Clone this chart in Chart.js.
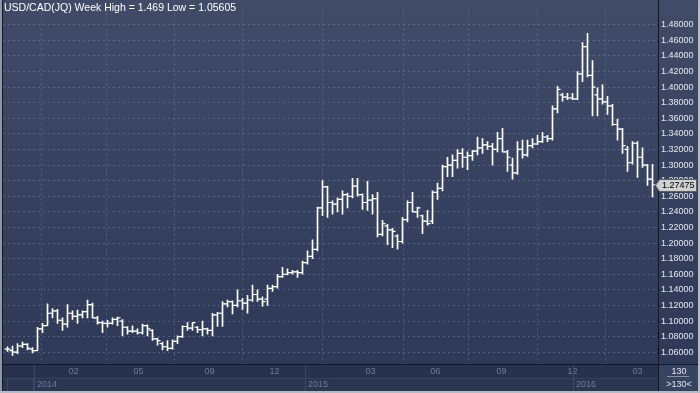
<!DOCTYPE html>
<html>
<head>
<meta charset="utf-8">
<title>USD/CAD weekly</title>
<script src="https://cdn.jsdelivr.net/npm/chart.js@4.4.1/dist/chart.umd.min.js"></script>
<style>
  html, body { margin: 0; padding: 0; background: #26324b; }
  #wrap { width: 700px; height: 393px; }
</style>
</head>
<body>
<div id="wrap"><canvas id="chart" width="700" height="393"></canvas></div>
<script>
// weekly OHLC, index 0 = first week on screen
const opens = [1.064,1.062,1.060,1.068,1.070,1.064,1.062,1.090,1.094,1.110,
  1.113,1.101,1.096,1.110,1.106,1.108,1.112,1.121,1.104,1.098,
  1.097,1.097,1.102,1.100,1.092,1.087,1.087,1.085,1.094,1.088,
  1.077,1.071,1.067,1.065,1.074,1.080,1.093,1.091,1.092,1.089,
  1.090,1.088,1.108,1.110,1.122,1.125,1.120,1.126,1.123,1.127,
  1.134,1.128,1.128,1.142,1.144,1.157,1.160,1.162,1.163,1.162,
  1.175,1.183,1.192,1.245,1.272,1.252,1.250,1.256,1.262,1.260,
  1.273,1.262,1.252,1.255,1.257,1.211,1.222,1.217,1.209,1.202,
  1.230,1.252,1.240,1.235,1.228,1.228,1.265,1.270,1.298,1.300,
  1.306,1.315,1.310,1.312,1.318,1.322,1.326,1.324,1.320,1.334,
  1.317,1.300,1.290,1.320,1.313,1.325,1.327,1.330,1.336,1.334,
  1.372,1.390,1.387,1.386,1.385,1.417,1.452,1.415,1.390,1.385,
  1.381,1.376,1.352,1.346,1.320,1.303,1.328,1.310,1.300,1.282];
const highs = [1.067,1.068,1.071,1.073,1.071,1.066,1.092,1.097,1.122,1.116,
  1.115,1.104,1.121,1.113,1.114,1.113,1.127,1.123,1.106,1.100,
  1.101,1.104,1.105,1.102,1.093,1.094,1.090,1.096,1.095,1.089,
  1.078,1.073,1.075,1.076,1.081,1.094,1.098,1.098,1.093,1.100,
  1.091,1.110,1.111,1.125,1.127,1.126,1.140,1.129,1.133,1.146,
  1.140,1.131,1.146,1.146,1.160,1.169,1.167,1.165,1.165,1.177,
  1.190,1.204,1.246,1.280,1.273,1.254,1.258,1.267,1.264,1.283,
  1.283,1.263,1.279,1.262,1.265,1.229,1.224,1.219,1.211,1.233,
  1.254,1.265,1.246,1.236,1.242,1.267,1.277,1.300,1.310,1.313,
  1.320,1.321,1.317,1.319,1.336,1.334,1.330,1.328,1.342,1.347,
  1.319,1.309,1.330,1.332,1.332,1.334,1.338,1.342,1.338,1.376,
  1.401,1.392,1.392,1.392,1.420,1.457,1.469,1.434,1.399,1.403,
  1.388,1.378,1.359,1.347,1.324,1.330,1.330,1.322,1.301,1.301];
const lows = [1.061,1.056,1.058,1.066,1.063,1.059,1.062,1.085,1.094,1.104,
  1.097,1.088,1.092,1.102,1.097,1.104,1.104,1.104,1.096,1.085,
  1.092,1.096,1.094,1.081,1.083,1.085,1.083,1.083,1.081,1.075,
  1.069,1.063,1.062,1.064,1.071,1.079,1.088,1.088,1.085,1.081,
  1.083,1.081,1.093,1.093,1.118,1.109,1.118,1.115,1.110,1.125,
  1.125,1.119,1.120,1.138,1.142,1.156,1.159,1.160,1.156,1.160,
  1.173,1.180,1.190,1.235,1.233,1.237,1.240,1.237,1.245,1.258,
  1.260,1.243,1.242,1.237,1.208,1.209,1.198,1.194,1.192,1.200,
  1.227,1.240,1.233,1.212,1.223,1.225,1.256,1.267,1.285,1.285,
  1.296,1.297,1.294,1.306,1.313,1.315,1.320,1.300,1.317,1.317,
  1.292,1.282,1.288,1.309,1.311,1.322,1.326,1.329,1.330,1.332,
  1.367,1.382,1.384,1.384,1.384,1.407,1.413,1.363,1.363,1.378,
  1.365,1.351,1.332,1.315,1.292,1.301,1.284,1.297,1.274,1.259];
const closes = [1.064,1.060,1.068,1.070,1.065,1.062,1.090,1.094,1.110,1.113,
  1.101,1.096,1.110,1.106,1.108,1.112,1.121,1.104,1.098,1.097,
  1.097,1.102,1.104,1.092,1.087,1.087,1.085,1.094,1.090,1.077,
  1.075,1.067,1.065,1.074,1.080,1.093,1.091,1.098,1.089,1.090,
  1.088,1.108,1.110,1.122,1.125,1.120,1.126,1.123,1.127,1.134,
  1.128,1.125,1.142,1.144,1.157,1.160,1.162,1.163,1.162,1.175,
  1.183,1.192,1.245,1.272,1.252,1.250,1.256,1.262,1.260,1.273,
  1.262,1.252,1.255,1.257,1.211,1.225,1.217,1.215,1.202,1.230,
  1.252,1.240,1.245,1.228,1.225,1.265,1.270,1.298,1.300,1.306,
  1.315,1.310,1.312,1.318,1.322,1.326,1.324,1.320,1.334,1.317,
  1.310,1.290,1.320,1.313,1.325,1.327,1.330,1.336,1.334,1.372,
  1.397,1.387,1.386,1.385,1.417,1.452,1.415,1.400,1.385,1.381,
  1.376,1.352,1.346,1.325,1.303,1.328,1.310,1.300,1.282,1.27475];

const yTicks = [1.06,1.08,1.10,1.12,1.14,1.16,1.18,1.20,1.22,1.24,1.26,1.28,
  1.30,1.32,1.34,1.36,1.38,1.40,1.42,1.44,1.46,1.48];
// month marks on the time row, in bar-index units
const monthLabels = ['02','05','09','12','03','06','09','12','03'];
const monthPos = [13.2, 26.2, 40.4, 53.4, 72.6, 85.6, 98.8, 113, 126];
const yearLabels = ['2014','2015','2016'];
const yearPos = [5.2, 59.4, 113];

const titleText = 'USD/CAD(JQ) Week High = 1.469 Low = 1.05605';
const barCount = '130';

const FONT = 'Liberation Sans, Arial, sans-serif';

const bars = highs.map((h, i) => ({ x: i, y: [lows[i], h] }));
const openPts = opens.map((o, i) => ({ x: i - 0.3, y: o }));
const closePts = closes.map((c, i) => ({ x: i + 0.3, y: c }));

const frame = {
  id: 'frame',
  beforeDraw(chart) {
    const c = chart.ctx, a = chart.chartArea;
    c.save();
    c.fillStyle = '#27334d';
    c.fillRect(0, 0, 700, 393);
    const g = c.createLinearGradient(0, 0, 0, a.bottom);
    g.addColorStop(0, '#3f4b67');
    g.addColorStop(1, '#2d3957');
    c.fillStyle = g;
    c.fillRect(0, 0, 700, a.bottom);
    // year row
    c.fillStyle = '#2a3651';
    c.fillRect(0, 378, a.right, 13);
    c.restore();
  },
  afterDraw(chart) {
    const c = chart.ctx, a = chart.chartArea;
    const xs = chart.scales.x, ys = chart.scales.y;
    c.save();
    // dividers of the time rows
    c.strokeStyle = '#34405c';
    c.lineWidth = 1;
    c.beginPath();
    c.moveTo(3, 378.5); c.lineTo(a.right, 378.5);
    c.stroke();
    c.strokeStyle = '#3b4867';
    yearPos.forEach(p => {
      const x = Math.round(xs.getPixelForValue(p)) + 0.5;
      c.beginPath(); c.moveTo(x, a.bottom); c.lineTo(x, 391); c.stroke();
    });
    c.strokeRect(7.5, 378.5, 26, 13);
    c.font = '9px ' + FONT;
    c.fillStyle = '#6f7b97';
    c.textBaseline = 'middle';
    c.textAlign = 'left';
    yearLabels.forEach((t, k) => {
      c.fillText(t, Math.round(xs.getPixelForValue(yearPos[k])) + 3, 385);
    });

    // bottom right counter box
    c.fillStyle = '#364361';
    c.fillRect(a.right, a.bottom, 700 - a.right, 391 - a.bottom);
    c.fillStyle = '#e4e7ee';
    c.textAlign = 'center';
    c.fillText(barCount, 679, 372);
    c.fillText('>' + barCount + '<', 679, 385);
    c.strokeStyle = '#8a92a6';
    c.beginPath(); c.moveTo(667, 376.5); c.lineTo(689, 376.5); c.stroke();

    // frame lines
    c.strokeStyle = '#121824';
    c.beginPath();
    c.moveTo(0, a.bottom + 0.5); c.lineTo(700, a.bottom + 0.5);
    c.moveTo(a.right + 0.5, 0); c.lineTo(a.right + 0.5, 391);
    c.moveTo(2.5, 0); c.lineTo(2.5, 391);
    c.stroke();
    c.fillStyle = '#8e98ad';
    c.fillRect(0, 0, 2, 393);
    c.fillStyle = '#b4bac7';
    c.fillRect(0, 391, 700, 2);
    c.fillRect(698, 0, 2, 393);

    // title
    c.font = '10.5px ' + FONT;
    c.fillStyle = '#ffffff';
    c.textAlign = 'left';
    c.fillText(titleText, 4, 8);

    // last price tag
    const last = closes[closes.length - 1];
    const py = Math.round(ys.getPixelForValue(last));
    c.fillStyle = '#cfd0d2';
    c.strokeStyle = '#5b5f66';
    c.beginPath();
    c.moveTo(655.5, py + 0.5);
    c.lineTo(659.5, py - 5.5);
    c.lineTo(696.5, py - 5.5);
    c.lineTo(696.5, py + 6.5);
    c.lineTo(659.5, py + 6.5);
    c.closePath();
    c.fill(); c.stroke();
    c.font = '9px ' + FONT;
    c.fillStyle = '#000000';
    c.fillText(last.toFixed(5), 662, py + 1);
    c.restore();
  }
};

new Chart(document.getElementById('chart').getContext('2d'), {
  type: 'bar',
  data: {
    datasets: [
      { type: 'bar', data: bars, backgroundColor: '#ffffff', borderWidth: 0, barThickness: 1 },
      { type: 'scatter', data: openPts, pointStyle: 'line', radius: 1.5, hoverRadius: 1.5,
        borderColor: '#ffffff', borderWidth: 1.2 },
      { type: 'scatter', data: closePts, pointStyle: 'line', radius: 1.5, hoverRadius: 1.5,
        borderColor: '#ffffff', borderWidth: 1.2 }
    ]
  },
  options: {
    responsive: false,
    animation: false,
    events: [],
    layout: { padding: { left: 3, top: 0, right: 0, bottom: 0 } },
    plugins: { legend: { display: false }, tooltip: { enabled: false } },
    scales: {
      x: {
        type: 'linear', min: -0.9, max: 130.1, offset: false,
        afterBuildTicks: s => { s.ticks = monthPos.map(v => ({ value: v })); },
        afterFit: s => { s.height = 29; },
        ticks: {
          autoSkip: false, maxRotation: 0, padding: 2,
          callback: (v, i) => monthLabels[i],
          color: '#6f7b97', font: { family: FONT, size: 9 }
        },
        grid: { color: 'rgba(125,140,170,0.45)', drawTicks: false },
        border: { display: false, dash: [2, 3] }
      },
      y: {
        position: 'right', min: 1.0449, max: 1.5009,
        afterBuildTicks: s => { s.ticks = yTicks.map(v => ({ value: v })); },
        afterFit: s => { s.width = 42; },
        ticks: {
          padding: 3,
          callback: v => v.toFixed(5),
          color: '#e8eaf0', font: { family: FONT, size: 9 }
        },
        grid: { color: 'rgba(125,140,170,0.45)', drawTicks: false },
        border: { display: false, dash: [2, 3] }
      }
    }
  },
  plugins: [frame]
});
</script>
</body>
</html>
